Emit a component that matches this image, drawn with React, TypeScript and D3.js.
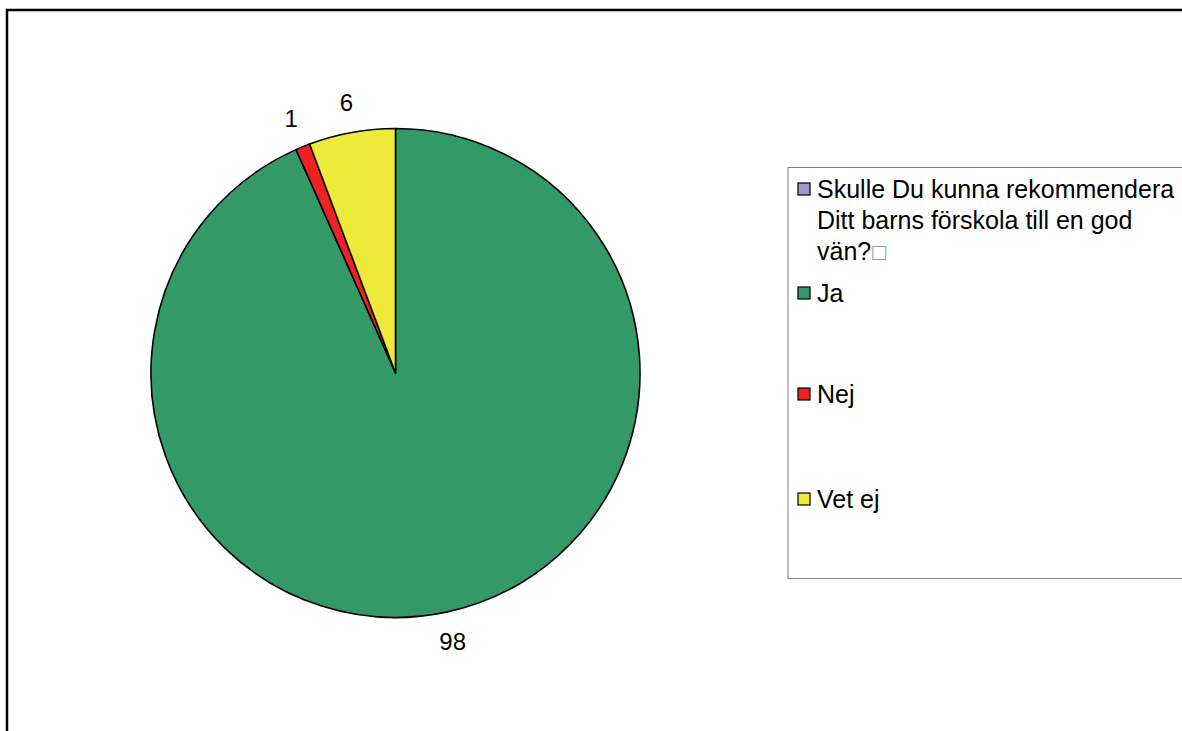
import React from "react";
import * as d3 from "d3";

const categories = ["Ja", "Nej", "Vet ej"];
const values = [98, 1, 6];
const colors = ["#339966", "#ee2222", "#eeea3c"];
const legendTitleLines = ["Skulle Du kunna rekommendera", "Ditt barns förskola till en god", "vän?"];
const legendTitleTail = "\u25A1";
const legendTitleColor = "#9999cc";

export default function App() {
  const W = 1182, H = 731;
  const cx = 395.5, cy = 373, r = 244.5;
  const pie = d3.pie<number>().sort(null).value((d) => d).startAngle(0).endAngle(2 * Math.PI);
  const arcs = pie(values);
  const arc = d3.arc<d3.PieArcDatum<number>>().innerRadius(0).outerRadius(r);
  const labelArc = d3.arc<d3.PieArcDatum<number>>().innerRadius(275).outerRadius(275);

  const legendX = 788, legendY = 167.5;
  const itemY = d3.scaleOrdinal<string, number>().domain(categories).range([293, 394, 499]);

  return (
    <div style={{ position: "absolute", left: 0, top: 0, width: W, height: H, overflow: "hidden" }}>
      <svg width={W} height={H} style={{ display: "block" }} fontFamily="'Liberation Sans', Arial, sans-serif">
        <rect x={0} y={0} width={W} height={H} fill="#fff" />
        <rect x={7} y={10} width={W + 20} height={H + 20} fill="none" stroke="#000" strokeWidth={2.5} />
        <g transform={`translate(${cx},${cy})`}>
          {arcs.map((a, i) => (
            <path key={i} d={arc(a) || ""} fill={colors[i]} stroke="#000" strokeWidth={1.6} strokeLinejoin="round" />
          ))}
          {arcs.map((a, i) => {
            const [lx, ly] = labelArc.centroid(a);
            return (
              <text key={"l" + i} x={lx} y={ly + 8.5} textAnchor="middle" fontSize={24} fill="#000">
                {values[i]}
              </text>
            );
          })}
        </g>
        <rect x={legendX} y={legendY} width={W} height={411} fill="#fff" stroke="#808080" strokeWidth={1} />
        <rect x={798} y={183} width={12} height={12} fill={legendTitleColor} stroke="#000" strokeWidth={1.2} />
        {legendTitleLines.map((t, i) => (
          <text key={"t" + i} x={817} y={198 + i * 31} fontSize={25} fill="#000">
            {t}
            {i === legendTitleLines.length - 1 ? (
              <tspan fontSize={23} fill="#8a8a8a" dx={1}>{legendTitleTail}</tspan>
            ) : null}
          </text>
        ))}
        {categories.map((c, i) => {
          const y = itemY(c);
          return (
            <g key={"c" + i}>
              <rect x={798} y={y - 6} width={12} height={12} fill={colors[i]} stroke="#000" strokeWidth={1.2} />
              <text x={817} y={y + 9} fontSize={25} fill="#000">{c}</text>
            </g>
          );
        })}
      </svg>
    </div>
  );
}
